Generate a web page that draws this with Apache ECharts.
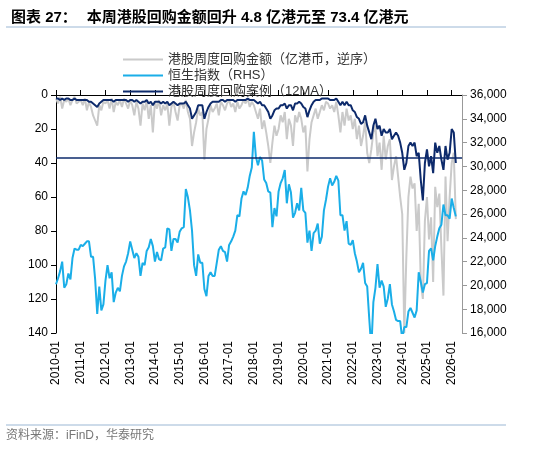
<!DOCTYPE html>
<html lang="zh">
<head>
<meta charset="UTF-8">
<title>港股回购</title>
<script src="https://cdn.jsdelivr.net/npm/echarts@6/dist/echarts.min.js"></script>
<style>
  html, body { margin: 0; padding: 0; background: #fff; }
  #main { width: 550px; height: 449px; }
</style>
</head>
<body>
<div id="main"></div>
<script>
// 月份分类 2010-01 .. 2026-06
const months = [];
for (let y = 2010; y <= 2026; y++) {
  for (let m = 1; m <= 12; m++) {
    if (y === 2026 && m > 6) break;
    months.push(y + '-' + (m < 10 ? '0' + m : m));
  }
}

// 恒生指数（月度，RHS）
const hsi = [
  20100,20600,21200,22000,19800,20100,21000,20500,22300,23100,23000,23000,
  23400,23300,23500,23700,23700,22400,22400,20500,17600,19900,17900,18400,
  20400,21700,20600,21100,18600,19400,19800,19500,20800,21600,22000,22700,
  23700,23000,22300,22700,22400,20800,21900,21700,22900,23200,23900,23300,
  22000,22800,22200,22100,23100,23200,24800,24700,22900,23900,23900,23600,
  24500,24800,24900,28100,27400,26300,24600,21700,20800,22600,21900,21900,
  19700,19100,20800,21100,20800,20800,21900,23000,23300,22900,22800,22000,
  23400,23700,24100,24600,25900,25800,27300,27900,27600,28200,29200,29900,
  32900,30800,30100,30800,30500,28900,28600,27900,27800,24900,26500,25800,
  27900,28600,29000,29700,26900,28500,27800,25700,26100,26900,26300,28200,
  26300,26100,23600,24600,22900,24400,24600,25200,23500,24100,26300,27200,
  28300,29000,28400,28700,29200,28800,25900,25900,24600,25400,23500,23400,
  23800,22700,22000,21100,21400,21900,20200,19900,17200,14700,18600,19800,
  21800,19800,20400,19900,18200,18900,20100,18400,17800,17100,17000,17000,
  15500,16500,16500,17800,18100,17700,17300,17900,21100,20300,19400,20100,
  20200,22900,23100,22100,23300,24100,24800,25100,26800,25900,25900,25600,
  27300,26500,25800
];

// 港股周度回购金额（亿港币，逆序）
const buyback = [
  2,5,1,8,3,4,2,6,3,1,5,4,
  3,6,2,9,4,7,12,15,18,6,9,4,
  5,3,8,2,10,4,6,3,7,2,5,8,
  3,6,12,4,8,18,5,9,3,14,6,22,
  4,8,3,12,6,9,5,18,7,4,10,15,
  6,5,8,3,10,14,30,22,16,8,12,10,
  38,20,14,6,10,8,5,12,4,6,9,5,
  3,7,5,10,4,8,6,3,5,2,7,4,
  6,10,14,8,20,15,22,30,40,28,18,24,
  20,12,16,10,26,14,18,30,12,16,10,14,
  22,18,45,26,16,12,8,14,10,6,9,4,
  5,8,6,10,4,12,22,10,18,8,15,12,
  20,14,26,18,30,24,16,34,40,32,22,18,
  36,28,44,24,38,30,26,50,42,36,48,60,
  70,140,95,60,48,55,52,80,64,110,120,74,
  60,85,72,110,54,66,58,90,118,48,86,60,
  40,34,73
];

// 港股周度回购案例（12MA）
const buybackMA = [
  2,2,3,2,3,2,2,3,3,2,3,3,
  3,3,3,3,4,4,5,6,7,5,4,3,
  3,3,3,3,4,3,3,3,3,3,3,4,
  3,3,4,3,4,5,4,4,3,5,4,6,
  4,4,4,5,4,5,4,6,5,4,5,6,
  5,5,5,4,6,8,14,12,10,6,6,6,
  14,10,7,5,4,4,4,4,3,3,4,3,
  3,3,3,4,3,3,3,3,3,2,3,3,
  3,4,5,4,6,6,8,10,14,12,9,8,
  8,6,6,5,8,6,6,9,5,5,4,5,
  7,8,13,9,6,4,3,3,3,2,2,2,
  2,3,3,3,2,4,6,4,6,4,6,6,
  9,10,13,14,17,16,12,18,22,26,18,14,
  20,18,24,20,22,22,20,26,24,22,24,28,
  34,44,40,30,28,30,28,36,34,50,62,40,
  32,42,36,46,28,34,30,38,44,30,38,34,
  20,22,40
];

const chart = echarts.init(document.getElementById('main'));
const font = 'Liberation Sans, Noto Sans CJK SC, sans-serif';

chart.setOption({
  animation: false,
  textStyle: { fontFamily: font },
  title: {
    left: 6, top: 4,
    text: '{a|图表 27：}  {b|本周港股回购金额回升 4.8 亿港元至 73.4 亿港元}',
    textStyle: {
      rich: {
        a: { fontSize: 15, fontWeight: 'bold', color: '#000', fontFamily: font },
        b: { fontSize: 15, fontWeight: 'bold', color: '#000', fontFamily: font }
      }
    }
  },
  graphic: [
    { type: 'line', shape: { x1: 6, y1: 27, x2: 506, y2: 27 }, style: { stroke: '#9bb7d4', lineWidth: 1 } },
    { type: 'line', shape: { x1: 6, y1: 425, x2: 506, y2: 425 }, style: { stroke: '#9bb7d4', lineWidth: 1 } },
    { type: 'text', left: 6, top: 430, style: { text: '资料来源：iFinD，华泰研究', fill: '#777', fontSize: 12, fontFamily: font } }
  ],
  legend: {
    orient: 'vertical', left: 118, top: 48, itemGap: 3,
    itemWidth: 40, itemHeight: 2,
    icon: 'rect',
    textStyle: { fontSize: 13, color: '#333' },
    data: ['港股周度回购金额（亿港币，逆序）', '恒生指数（RHS）', '港股周度回购案例（12MA）']
  },
  grid: { left: 56, right: 88, top: 95, bottom: 116 },
  xAxis: {
    type: 'category', data: months, boundaryGap: false,
    axisLine: { lineStyle: { color: '#000' } },
    axisTick: { interval: 11, inside: true, length: 5, lineStyle: { color: '#000' } },
    axisLabel: { interval: 11, rotate: 90, fontSize: 12, color: '#000', margin: 8 }
  },
  yAxis: [
    {
      type: 'value', inverse: true, min: 0, max: 140, interval: 20,
      splitLine: { show: false },
      axisLine: { show: true, lineStyle: { color: '#000' } },
      axisTick: { show: true, lineStyle: { color: '#000' } },
      axisLabel: { fontSize: 12, color: '#000' }
    },
    {
      type: 'value', min: 16000, max: 36000, interval: 2000,
      splitLine: { show: false },
      axisLine: { show: true, lineStyle: { color: '#999' } },
      axisTick: { show: true, lineStyle: { color: '#999' } },
      axisLabel: {
        fontSize: 12, color: '#000',
        formatter: v => v.toLocaleString('en-US')
      }
    }
  ],
  series: [
    {
      name: '港股周度回购金额（亿港币，逆序）', type: 'line', yAxisIndex: 0,
      data: buyback, symbol: 'none', color: '#cacaca',
      lineStyle: { width: 2, color: '#cacaca' }
    },
    {
      name: '恒生指数（RHS）', type: 'line', yAxisIndex: 1,
      data: hsi, symbol: 'none', color: '#1aaee8',
      lineStyle: { width: 2, color: '#1aaee8' }, clip: true
    },
    {
      name: '港股周度回购案例（12MA）', type: 'line', yAxisIndex: 0,
      data: buybackMA, symbol: 'none', color: '#0d2a6b',
      lineStyle: { width: 2, color: '#0d2a6b' },
      markLine: {
        silent: true, symbol: 'none', label: { show: false },
        lineStyle: { type: 'solid', color: '#0d2a6b', width: 1.5 },
        data: [{ yAxis: 37 }]
      }
    }
  ]
});
</script>
</body>
</html>
